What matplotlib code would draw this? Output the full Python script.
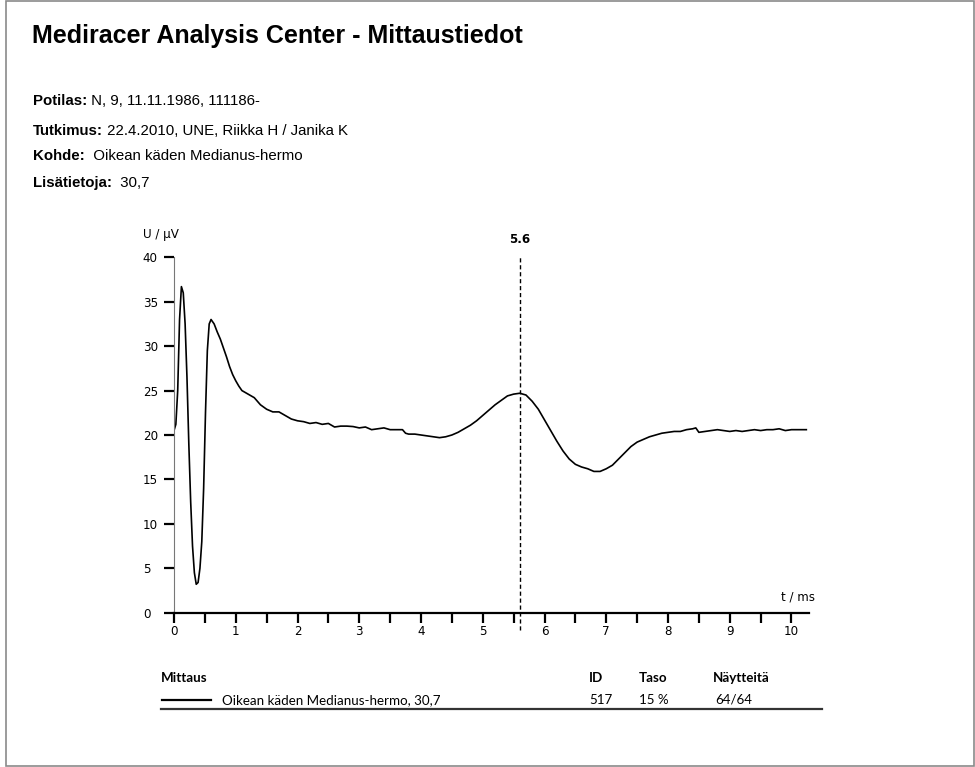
import matplotlib.pyplot as plt
from matplotlib import font_manager
from matplotlib.font_manager import FontProperties
from matplotlib.lines import Line2D
from matplotlib.patches import Rectangle
from matplotlib.ticker import MultipleLocator

W, H = 975, 767

# Averaged nerve response, t in ms, U in microvolts
t_ms = [0.00, 0.03, 0.06, 0.09, 0.12, 0.15, 0.18, 0.21, 0.24, 0.27,
        0.30, 0.33, 0.36, 0.39, 0.42, 0.45, 0.48, 0.51, 0.54, 0.57,
        0.60, 0.65, 0.70, 0.75, 0.80, 0.85, 0.90, 0.95, 1.00, 1.05,
        1.10, 1.20, 1.30, 1.40, 1.50, 1.60, 1.70, 1.80, 1.90, 2.00,
        2.10, 2.20, 2.30, 2.40, 2.50, 2.60, 2.70, 2.80, 2.90, 3.00,
        3.10, 3.20, 3.30, 3.40, 3.50, 3.60, 3.70, 3.75, 3.80, 3.90,
        4.00, 4.10, 4.20, 4.30, 4.40, 4.50, 4.60, 4.70, 4.80, 4.90,
        5.00, 5.10, 5.20, 5.30, 5.40, 5.50, 5.60, 5.70, 5.80, 5.90,
        6.00, 6.10, 6.20, 6.30, 6.40, 6.50, 6.60, 6.70, 6.80, 6.90,
        7.00, 7.10, 7.20, 7.30, 7.40, 7.50, 7.60, 7.70, 7.80, 7.90,
        8.00, 8.10, 8.20, 8.30, 8.40, 8.45, 8.50, 8.60, 8.70, 8.80,
        8.90, 9.00, 9.10, 9.20, 9.30, 9.40, 9.50, 9.60, 9.70, 9.80,
        9.90, 10.00, 10.10, 10.24]
u_uv = [20.5, 21.2, 25.0, 33.0, 36.7, 36.0, 32.5, 26.5, 19.0, 12.5,
        7.5, 4.5, 3.2, 3.4, 5.0, 8.0, 14.0, 22.5, 29.5, 32.5,
        33.0, 32.5, 31.6, 30.8, 29.8, 28.8, 27.7, 26.8, 26.1, 25.5,
        25.0, 24.6, 24.2, 23.4, 22.9, 22.6, 22.6, 22.2, 21.8, 21.6,
        21.5, 21.3, 21.4, 21.2, 21.3, 20.9, 21.0, 21.0, 20.95, 20.8,
        20.9, 20.6, 20.7, 20.8, 20.6, 20.6, 20.6, 20.2, 20.1, 20.1,
        20.0, 19.9, 19.8, 19.7, 19.8, 20.0, 20.3, 20.7, 21.1, 21.6,
        22.2, 22.8, 23.4, 23.9, 24.4, 24.6, 24.7, 24.5, 23.8, 22.9,
        21.7, 20.5, 19.3, 18.2, 17.3, 16.7, 16.4, 16.2, 15.9, 15.9,
        16.2, 16.6, 17.3, 18.0, 18.7, 19.2, 19.5, 19.8, 20.0, 20.2,
        20.3, 20.4, 20.4, 20.6, 20.7, 20.8, 20.3, 20.4, 20.5, 20.6,
        20.5, 20.4, 20.5, 20.4, 20.5, 20.6, 20.5, 20.6, 20.6, 20.7,
        20.5, 20.6, 20.6, 20.6]
marker_t = 5.6

info_labels = ['Potilas:', 'Tutkimus:', 'Kohde:', 'Lisätietoja:']
info_values = [' N, 9, 11.11.1986, 111186-', ' 22.4.2010, UNE, Riikka H / Janika K',
               '  Oikean käden Medianus-hermo', '  30,7']

table_header = ['Mittaus', 'ID', 'Taso', 'Näytteitä']
table_row = ['Oikean käden Medianus-hermo, 30,7', '517', '15 %', '64/64']


def px(x, y):
    return x / W, 1 - y / H


def liberation(style):
    # pick the regular-width Liberation Sans file, not the Narrow one
    for f in font_manager.fontManager.ttflist:
        if f.fname.endswith('LiberationSans-%s.ttf' % style):
            return f.fname
    return None


bold_file = liberation('Bold')
reg_file = liberation('Regular')


def head_font(size, bold=False):
    fname = bold_file if bold else reg_file
    if fname:
        return FontProperties(fname=fname, size=size)
    return FontProperties(family='Liberation Sans', weight='bold' if bold else 'normal', size=size)


fig = plt.figure(figsize=(W / 100, H / 100), dpi=100)
fig.patches.append(Rectangle(px(6, 766), 968 / W, 765 / H, transform=fig.transFigure,
                             fill=False, edgecolor='#8a8a8a', linewidth=1.2))

fig.text(*px(32, 43), 'Mediracer Analysis Center - Mittaustiedot',
         fontproperties=head_font(18, True), va='baseline')

rows_y = [105, 135, 160, 187]
fig.canvas.draw()
for lab, val, y in zip(info_labels, info_values, rows_y):
    tl = fig.text(*px(33, y), lab, fontproperties=head_font(10.8, True), va='baseline')
    bb = tl.get_window_extent(renderer=fig.canvas.get_renderer())
    fig.text(bb.x1 / W, 1 - y / H, val, fontproperties=head_font(10.8), va='baseline')

# signal axes
x0, x1 = 174, 809
y0, y1 = 612.7, 257.3
xmax = (x1 - x0) / 61.75
ax = fig.add_axes([x0 / W, 1 - y0 / H, (x1 - x0) / W, (y0 - y1) / H])
ax.plot(t_ms, u_uv, color='black', linewidth=1.2)
ax.set_xlim(0, xmax)
ax.set_ylim(0, 40)
for s in ('top', 'right'):
    ax.spines[s].set_visible(False)
ax.spines['bottom'].set_linewidth(1.6)
ax.spines['left'].set_color('#777777')
ax.spines['left'].set_linewidth(0.8)

tick_font = dict(family='DejaVu Sans', size=8.6)
ax.xaxis.set_minor_locator(MultipleLocator(0.5))
ax.yaxis.set_major_locator(MultipleLocator(5))
ax.set_xticks(range(11))
ax.tick_params(axis='x', which='both', direction='out', length=7, width=1.6, pad=1.5)
ax.tick_params(axis='y', direction='out', length=7.5, width=1.6, pad=15)
for lbl in ax.get_xticklabels():
    lbl.set(**tick_font)
for lbl in ax.get_yticklabels():
    lbl.set(**tick_font, ha='left')

ax.plot([marker_t, marker_t], [-2, 40], color='black', linewidth=1.0,
        linestyle=(0, (3, 2)), clip_on=False)
ax.text(marker_t, 41.3, '5.6', ha='center', va='bottom', weight='bold', **tick_font)

fig.text(*px(143, 234), 'U / µV', ha='left', va='center', **tick_font)
fig.text(*px(815, 597), 't / ms', ha='right', va='center', **tick_font)

# measurement table
tab_font = dict(family='Lato', size=9.6)
col_x = [161, 589, 639, 713]
for x, txt in zip(col_x, table_header):
    fig.text(*px(x, 678), txt, ha='left', va='center', weight='bold', **tab_font)
fig.add_artist(Line2D([162 / W, 211 / W], [1 - 700 / H] * 2, color='black', linewidth=1.6))
row_x = [222, 589, 639, 715]
for x, txt in zip(row_x, table_row):
    fig.text(*px(x, 700), txt, ha='left', va='center', **tab_font)
fig.add_artist(Line2D([161 / W, 822 / W], [1 - 709 / H] * 2, color='#333333', linewidth=1.6))

fig.savefig('out.png', dpi=100)
